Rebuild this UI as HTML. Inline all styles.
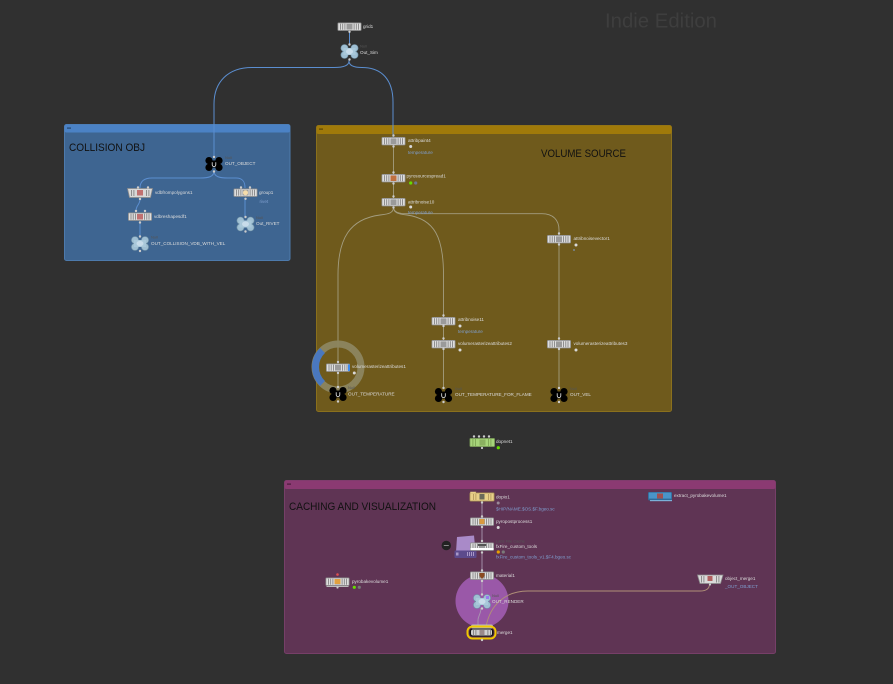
<!DOCTYPE html>
<html><head><meta charset="utf-8"><style>
html,body{margin:0;padding:0;background:#303030;}
svg{display:block;}
text{font-family:"Liberation Sans",sans-serif;}
.l{font-size:4.6px;fill:#dcdcdc;}
.b{font-size:4.6px;fill:#7f9fd0;}
.n{font-size:4px;fill:#555;}
</style></head><body>
<svg width="893" height="684" viewBox="0 0 893 684" xmlns="http://www.w3.org/2000/svg">
<defs>
<g id="nd">
<rect x="0" y="0" width="24" height="8.4" rx="1.2" fill="#8a8a8a"/>
<rect x="0.8" y="0.8" width="22.4" height="6.8" fill="#dedede"/>
<rect x="2.6" y="1.2" width="0.8" height="6" fill="#7a7a7a"/>
<rect x="4.8" y="1.2" width="0.8" height="6" fill="#7a7a7a"/>
<rect x="7" y="1.2" width="0.8" height="6" fill="#7a7a7a"/>
<rect x="16.2" y="1.2" width="0.8" height="6" fill="#7a7a7a"/>
<rect x="18.4" y="1.2" width="0.8" height="6" fill="#7a7a7a"/>
<rect x="20.6" y="1.2" width="0.8" height="6" fill="#7a7a7a"/>
<rect x="9" y="1.4" width="6" height="5.6" fill="#9a9a9a"/>
</g>
<g id="nb">
<circle cx="-5" cy="-3.4" r="3.6" fill="#9fbfd3" stroke="#6f90a4" stroke-width="0.6"/>
<circle cx="5" cy="-3.4" r="3.6" fill="#9fbfd3" stroke="#6f90a4" stroke-width="0.6"/>
<circle cx="-5" cy="3.4" r="3.6" fill="#9fbfd3" stroke="#6f90a4" stroke-width="0.6"/>
<circle cx="5" cy="3.4" r="3.6" fill="#9fbfd3" stroke="#6f90a4" stroke-width="0.6"/>
<rect x="-6" y="-3.5" width="12" height="7" fill="#a9c8da"/>
<ellipse cx="0" cy="0" rx="3.5" ry="2.6" fill="#c8dcea"/>
</g>
<g id="nk">
<circle cx="-5" cy="-3.4" r="3.6" fill="#000"/>
<circle cx="5" cy="-3.4" r="3.6" fill="#000"/>
<circle cx="-5" cy="3.4" r="3.6" fill="#000"/>
<circle cx="5" cy="3.4" r="3.6" fill="#000"/>
<rect x="-6" y="-3.5" width="12" height="7" fill="#000"/>
<path d="M-1.8,-1.8 V0.8 A1.8,1.8 0 0 0 1.8,0.8 V-1.8" fill="none" stroke="#eee" stroke-width="0.8"/>
</g>
</defs>

<!-- Indie Edition -->
<text x="605" y="27.5" font-size="20" fill="#3e3e3e" textLength="112" lengthAdjust="spacingAndGlyphs">Indie Edition</text>

<!-- Collision box -->
<rect x="64.5" y="124.5" width="225.5" height="136" rx="2" fill="#3e6591" stroke="#4d7aac" stroke-width="1"/>
<rect x="64.5" y="124.5" width="225.5" height="8" rx="2" fill="#4b82c5"/>
<rect x="67" y="127.5" width="4" height="1.2" fill="#24466e"/>
<text x="69" y="151" font-size="11" fill="#111" textLength="76" lengthAdjust="spacingAndGlyphs">COLLISION OBJ</text>

<!-- Volume box -->
<rect x="316.5" y="125.5" width="355" height="286" rx="2" fill="#6f5a1c" stroke="#8a701c" stroke-width="1"/>
<rect x="316.5" y="125.5" width="355" height="8.5" rx="2" fill="#a07a0a"/>
<rect x="319" y="128.5" width="4" height="1.2" fill="#5a4406"/>
<text x="541" y="157" font-size="11" fill="#111" textLength="85" lengthAdjust="spacingAndGlyphs">VOLUME SOURCE</text>

<!-- Caching box -->
<rect x="284.5" y="480.5" width="491" height="173" rx="2" fill="#5f3454" stroke="#763f68" stroke-width="1"/>
<rect x="284.5" y="480.5" width="491" height="8.5" rx="2" fill="#8b3a72"/>
<rect x="287" y="483.5" width="4" height="1.2" fill="#4a1c3c"/>
<text x="289" y="510" font-size="11" fill="#111" textLength="147" lengthAdjust="spacingAndGlyphs">CACHING AND VISUALIZATION</text>

<!-- top wires -->
<g fill="none" stroke="#5b8ed0" stroke-width="1">
<path d="M349,59 V61 C349,66 342,67.5 334,67.5 H252 C228,67.5 214,82 214,104 V157"/>
<path d="M349,59 V61 C349,66 355,67.5 362,67.5 C382,67.5 393,80 393,102 V137"/>
<line x1="349.5" y1="31" x2="349.5" y2="45"/>
</g>

<!-- top nodes -->
<use href="#nd" x="337.5" y="22.5"/>
<circle cx="349.5" cy="31.8" r="1.2" fill="#ccc"/>
<text class="l" x="363" y="28">grid1</text>
<use href="#nb" x="349.5" y="51.5"/>
<circle cx="349.5" cy="44.5" r="1.2" fill="#ccc"/>
<circle cx="349.5" cy="59.5" r="1.2" fill="#ccc"/>
<text class="n" x="360" y="47.5">Null</text>
<text class="l" x="360" y="54">Out_Sim</text>

<!-- collision wires -->
<g fill="none" stroke="#5b8ed0" stroke-width="1">
<path d="M214,171 C214,177 208,178 200,178 H152 C143,178 140,182 140,188"/>
<path d="M214,171 C214,177 220,178 228,178 H236 C243,178 245,182 245,188"/>
<path d="M140,199 C140,205 136,205 136,211"/>
<line x1="140" y1="222" x2="140" y2="237"/>
<line x1="245" y1="198" x2="245" y2="218"/>
</g>
<use href="#nk" x="214" y="164"/>
<circle cx="214" cy="157" r="1.2" fill="#ccc"/>
<circle cx="214" cy="171.5" r="1.2" fill="#ccc"/>
<text class="n" x="225" y="159">Null</text>
<text class="l" x="225" y="165">OUT_OBJECT</text>

<path d="M127.5,188.5 H152.5 L150.5,197.5 H129.5 Z" fill="#d8d8d8" stroke="#8a8a8a" stroke-width="0.8"/>
<rect x="137" y="190" width="6" height="5.5" fill="#c07070"/>
<g fill="#7a7a7a"><rect x="131" y="190" width="0.8" height="6"/><rect x="133.5" y="190" width="0.8" height="6"/><rect x="146" y="190" width="0.8" height="6"/><rect x="148.5" y="190" width="0.8" height="6"/></g>
<circle cx="138" cy="187.5" r="1.2" fill="#ccc"/><circle cx="148" cy="187.5" r="1.2" fill="#ccc"/>
<circle cx="140" cy="199" r="1.2" fill="#ccc"/>
<text class="l" x="155" y="194">vdbfrompolygons1</text>

<use href="#nd" x="128" y="212.5"/>
<rect x="137" y="214" width="6" height="5.5" fill="#c07070"/>
<circle cx="136" cy="211" r="1.2" fill="#ccc"/><circle cx="145" cy="211" r="1.2" fill="#ccc"/>
<circle cx="140" cy="222.5" r="1.2" fill="#ccc"/>
<text class="l" x="154" y="218">vdbreshapesdf1</text>

<use href="#nb" x="140" y="243.5"/>
<circle cx="140" cy="236.5" r="1.2" fill="#ccc"/>
<circle cx="140" cy="251" r="1.2" fill="#ccc"/>
<text class="n" x="151" y="238.5">Null</text>
<text class="l" x="151" y="245">OUT_COLLISION_VDB_WITH_VEL</text>

<use href="#nd" x="233.5" y="188.5"/>
<circle cx="245.5" cy="192.7" r="2.5" fill="#f6dcaa"/>
<circle cx="241" cy="187.5" r="1.2" fill="#ccc"/><circle cx="250" cy="187.5" r="1.2" fill="#ccc"/>
<circle cx="245.5" cy="198.8" r="1.2" fill="#ccc"/>
<text class="l" x="259" y="194">group1</text>
<text class="b" x="259.5" y="203">rivet</text>

<use href="#nb" x="245.5" y="224"/>
<circle cx="245.5" cy="217" r="1.2" fill="#ccc"/>
<circle cx="245.5" cy="231.5" r="1.2" fill="#ccc"/>
<text class="n" x="256" y="219">Null</text>
<text class="l" x="256" y="225">Out_RIVET</text>

<!-- volume wires -->
<g fill="none" stroke="#a39d80" stroke-width="0.9">
<line x1="393.5" y1="145" x2="393.5" y2="174"/>
<line x1="393.5" y1="182" x2="393.5" y2="198"/>
<path d="M393.5,207 C393.5,213 389,214 380,215 C350,219 338,238 338,275 V364"/>
<path d="M393.5,207 C393.5,213 398,214 407,215 C435,219 443.5,238 443.5,275 V317"/>
<path d="M393.5,207 C393.5,212 398,213.7 408,213.7 H542 C553,213.7 559,220 559,230 V236"/>
<line x1="443.5" y1="325" x2="443.5" y2="341"/>
<line x1="443.5" y1="348" x2="443.5" y2="388"/>
<line x1="559" y1="243" x2="559" y2="341"/>
<line x1="559" y1="348" x2="559" y2="388"/>
<line x1="338" y1="372" x2="338" y2="388"/>
</g>

<use href="#nd" x="381.5" y="137"/>
<circle cx="393.5" cy="135.5" r="1.2" fill="#ccc"/><circle cx="393.5" cy="146.5" r="1.2" fill="#ccc"/>
<circle cx="410.7" cy="146.5" r="1.5" fill="#d8d8d8"/>
<text class="l" x="408" y="142">attribpaint4</text>
<text class="b" x="408" y="154">temperature</text>

<use href="#nd" x="381.5" y="174"/>
<rect x="390.5" y="175.5" width="6" height="5.5" fill="#c07040"/>
<circle cx="393.5" cy="172.5" r="1.2" fill="#ccc"/><circle cx="393.5" cy="183.5" r="1.2" fill="#ccc"/>
<circle cx="410.7" cy="183" r="1.6" fill="#66dd00"/>
<circle cx="415.7" cy="183" r="1.6" fill="#6c7690"/>
<text class="l" x="406.5" y="177.5">pyrosourcespread1</text>

<use href="#nd" x="381.5" y="198"/>
<circle cx="393.5" cy="196.5" r="1.2" fill="#ccc"/><circle cx="393.5" cy="207.5" r="1.2" fill="#ccc"/>
<circle cx="410.7" cy="207" r="1.5" fill="#d8d8d8"/>
<text class="l" x="408" y="203.5">attribnoise10</text>
<text class="b" x="408" y="214">temperature</text>

<use href="#nd" x="547" y="235"/>
<circle cx="559" cy="233.5" r="1.2" fill="#ccc"/><circle cx="559" cy="244.5" r="1.2" fill="#ccc"/>
<circle cx="576" cy="245" r="1.5" fill="#d8d8d8"/>
<rect x="573.5" y="249" width="1" height="2" fill="#7f9fd0"/>
<text class="l" x="573.5" y="240">attribnoisevector1</text>

<use href="#nd" x="431.5" y="317"/>
<circle cx="443.5" cy="315.5" r="1.2" fill="#ccc"/><circle cx="443.5" cy="326" r="1.2" fill="#ccc"/>
<circle cx="460" cy="326" r="1.5" fill="#d8d8d8"/>
<text class="l" x="458" y="321">attribnoise11</text>
<text class="b" x="458" y="333">temperature</text>

<use href="#nd" x="431.5" y="340"/>
<circle cx="443.5" cy="338.5" r="1.2" fill="#ccc"/><circle cx="443.5" cy="349" r="1.2" fill="#ccc"/>
<circle cx="460" cy="350" r="1.5" fill="#d8d8d8"/>
<text class="l" x="458" y="345">volumerasterizeattributes2</text>

<use href="#nd" x="547" y="340"/>
<circle cx="559" cy="338.5" r="1.2" fill="#ccc"/><circle cx="559" cy="349" r="1.2" fill="#ccc"/>
<circle cx="576" cy="350" r="1.5" fill="#d8d8d8"/>
<text class="l" x="573.5" y="345">volumerasterizeattributes3</text>

<!-- ring -->
<circle cx="338" cy="367" r="23" fill="none" stroke="#8c8660" stroke-width="7" opacity="0.95"/>
<path d="M322.5,350.5 A23,23 0 0 0 322.5,383.5" fill="none" stroke="#4a78be" stroke-width="7"/>
<use href="#nd" x="326" y="363.5"/>
<rect x="348" y="364.5" width="2" height="6.5" fill="#3c8cf0"/>
<circle cx="338" cy="362" r="1.2" fill="#ccc"/><circle cx="338" cy="373" r="1.2" fill="#ccc"/>
<circle cx="354.3" cy="373" r="1.5" fill="#d8d8d8"/>
<text class="l" x="352" y="368">volumerasterizeattributes1</text>

<use href="#nk" x="338" y="394"/>
<circle cx="338" cy="387" r="1.2" fill="#ccc"/><circle cx="338" cy="401.5" r="1.2" fill="#ccc"/>
<text class="n" x="348" y="389">Null</text>
<text class="l" x="348" y="395.5">OUT_TEMPERATURE</text>

<use href="#nk" x="443.5" y="395"/>
<circle cx="443.5" cy="388" r="1.2" fill="#ccc"/><circle cx="443.5" cy="402" r="1.2" fill="#ccc"/>
<text class="n" x="455" y="390">Null</text>
<text class="l" x="455" y="396">OUT_TEMPERATURE_FOR_FLAME</text>

<use href="#nk" x="559" y="395"/>
<circle cx="559" cy="388" r="1.2" fill="#ccc"/><circle cx="559" cy="402" r="1.2" fill="#ccc"/>
<text class="n" x="570" y="390">Null</text>
<text class="l" x="570" y="396">OUT_VEL</text>

<!-- dopnet -->
<rect x="469.5" y="438" width="25.5" height="9" rx="1.2" fill="#6e8c50"/>
<rect x="470.3" y="438.8" width="23.9" height="7.4" fill="#a6d47a"/>
<g fill="#7aa050"><rect x="472.5" y="439" width="0.8" height="7"/><rect x="475" y="439" width="0.8" height="7"/><rect x="488" y="439" width="0.8" height="7"/><rect x="490.5" y="439" width="0.8" height="7"/></g>
<rect x="479.5" y="439.5" width="6" height="6" fill="#8ab060"/>
<circle cx="474" cy="436.5" r="1.2" fill="#ccc"/><circle cx="479" cy="436.5" r="1.2" fill="#ccc"/><circle cx="484" cy="436.5" r="1.2" fill="#ccc"/><circle cx="489" cy="436.5" r="1.2" fill="#ccc"/>
<circle cx="482" cy="448" r="1.1" fill="#ccc"/>
<circle cx="498.3" cy="447.7" r="1.6" fill="#66dd00"/>
<text class="l" x="496" y="443">dopnet1</text>

<!-- caching wires -->
<g fill="none" stroke="#a896b0" stroke-width="0.9">
<line x1="482" y1="502" x2="482" y2="518"/>
<line x1="482" y1="526" x2="482" y2="542"/>
<line x1="482" y1="552" x2="482" y2="572"/>
</g>

<!-- purple circle -->
<circle cx="482" cy="601" r="26.5" fill="#9a58a8"/>
<g fill="none" stroke="#a896b0" stroke-width="0.9">
<line x1="482" y1="580" x2="482" y2="594"/>
<path d="M481,608 C481,614 478,616 478,620 V628"/>
</g>
<path d="M709.5,584 C709.5,589 706,591 700,591 H528 C505,591 490,605 486,627" fill="none" stroke="#b09078" stroke-width="0.9"/>

<rect x="469.5" y="492.5" width="25" height="9" rx="1.2" fill="#a08850"/>
<rect x="470.3" y="493.3" width="23.4" height="7.4" fill="#e8d088"/>
<path d="M470.3,493.3 h5 l1,-1.5 h-6z" fill="#e8d088"/>
<g fill="#b09458"><rect x="473" y="494" width="0.8" height="6"/><rect x="475.5" y="494" width="0.8" height="6"/><rect x="488" y="494" width="0.8" height="6"/><rect x="490.5" y="494" width="0.8" height="6"/></g>
<rect x="479.5" y="494" width="5" height="5.5" fill="#6a6a5a"/>
<circle cx="482" cy="502.5" r="1.2" fill="#ccc"/>
<circle cx="498.2" cy="503" r="1.5" fill="#9a8a98"/>
<text class="l" x="496" y="498.5">dopio1</text>
<text class="b" x="496" y="510.5">$HIP/NAME.$OS.$F.bgeo.sc</text>

<use href="#nd" x="470" y="517.5"/>
<rect x="479.5" y="519" width="5" height="5" fill="#d89a40"/>
<circle cx="482" cy="516.5" r="1.2" fill="#ccc"/><circle cx="482" cy="527" r="1.2" fill="#ccc"/>
<circle cx="498.2" cy="527.5" r="1.5" fill="#d8d8d8"/>
<text class="l" x="496" y="523">pyropostprocess1</text>

<!-- file cache icon -->
<circle cx="446.3" cy="545.5" r="4.7" fill="#222"/>
<rect x="443.8" y="545" width="5" height="1" fill="#888"/>
<path d="M457,537 L474,535.5 L475.5,551 L456,552 Z" fill="#a98ac8"/>
<rect x="454.5" y="550.5" width="22" height="7.5" rx="1" fill="#5c4a8c"/>
<rect x="456" y="552.5" width="2.5" height="3" fill="#a898c8"/>
<g fill="#c8b8e0"><rect x="467" y="552" width="0.7" height="4"/><rect x="469" y="552" width="0.7" height="4"/><rect x="471" y="552" width="0.7" height="4"/><rect x="473" y="552" width="0.7" height="4"/></g>

<use href="#nd" x="470" y="542.5"/>
<rect x="478" y="544" width="8" height="2" fill="#555"/>
<rect x="470.5" y="548" width="23" height="2" fill="#fff"/>
<circle cx="482" cy="541" r="1.2" fill="#ccc"/><circle cx="482" cy="552.5" r="1.2" fill="#ccc"/>
<circle cx="498.3" cy="552" r="1.6" fill="#e8a000"/>
<circle cx="503.3" cy="552" r="1.6" fill="#7a7a7a"/>
<text class="n" x="496" y="542.5" fill="#7a6a7a">Labs File Cache</text>
<text class="l" x="496" y="548">fxFire_custom_tools</text>
<text class="b" x="496" y="558.5">fxFire_custom_tools_v1.$F4.bgeo.sc</text>

<use href="#nd" x="470" y="571.5"/>
<path d="M479.5,573 h5 v3 l-2.5,3 l-2.5,-3z" fill="#8a4a20"/>
<circle cx="482" cy="570.5" r="1.2" fill="#ccc"/><circle cx="482" cy="581" r="1.2" fill="#ccc"/>
<text class="l" x="496" y="577">material1</text>

<use href="#nb" x="482" y="601.5"/>
<rect x="486" y="596" width="3" height="3" fill="#9a7af0"/>
<circle cx="482" cy="594.5" r="1.2" fill="#ccc"/><circle cx="482" cy="608.5" r="1.2" fill="#ccc"/>
<text class="n" x="492" y="597" fill="#6a4a74">Null</text>
<text class="l" x="492" y="603">OUT_RENDER</text>

<!-- merge -->
<rect x="471" y="624.5" width="22" height="4" rx="2" fill="#bdbdbd"/>
<rect x="467.5" y="626.5" width="28" height="12" rx="5" fill="none" stroke="#f0c800" stroke-width="2"/>
<rect x="469.5" y="628.5" width="24" height="8" rx="3" fill="#111"/>
<rect x="471" y="629.5" width="21" height="6" rx="2" fill="#cfcfcf"/>
<g fill="#777"><rect x="473" y="630" width="0.8" height="5"/><rect x="475.5" y="630" width="0.8" height="5"/><rect x="487.5" y="630" width="0.8" height="5"/><rect x="490" y="630" width="0.8" height="5"/></g>
<rect x="479.5" y="630" width="5" height="5" fill="#9a8a8a"/>
<circle cx="482" cy="640" r="1.2" fill="#ccc"/>
<text class="l" x="497" y="634">merge1</text>

<!-- pyrobakevolume -->
<circle cx="337.5" cy="574.5" r="1.3" fill="#e05050"/>
<use href="#nd" x="325.5" y="577.5"/>
<rect x="334.5" y="579" width="6" height="5" fill="#e0a040"/>
<rect x="326.5" y="586" width="22" height="1" fill="#bbb"/>
<circle cx="337.5" cy="587.5" r="1.1" fill="#ccc"/>
<circle cx="354.3" cy="587.3" r="1.6" fill="#66dd00"/>
<circle cx="359.3" cy="587.3" r="1.6" fill="#777"/>
<text class="l" x="352" y="583">pyrobakevolume1</text>

<!-- extract -->
<rect x="648" y="492" width="24" height="8.5" rx="1.2" fill="#2e6a98"/>
<rect x="648.8" y="492.6" width="22.4" height="6" fill="#4a94c8"/>
<rect x="650" y="500" width="22" height="1.2" fill="#7ab0d8"/>
<rect x="657" y="493.5" width="6" height="5" fill="#a05050"/>
<text class="l" x="674" y="497">extract_pyrobakevolume1</text>

<!-- object merge -->
<path d="M697.5,575 H723 L720.5,583.5 H700 Z" fill="#dadada" stroke="#8a8a8a" stroke-width="0.8"/>
<g fill="#7a7a7a"><rect x="701" y="576" width="0.8" height="6.5"/><rect x="703.5" y="576" width="0.8" height="6.5"/><rect x="716" y="576" width="0.8" height="6.5"/><rect x="718.5" y="576" width="0.8" height="6.5"/></g>
<rect x="707.5" y="576" width="5" height="5" fill="#b06060"/>
<circle cx="710" cy="584.5" r="1.1" fill="#ccc"/>
<text class="l" x="725" y="580">object_merge1</text>
<text class="b" x="725" y="588">_OUT_OBJECT</text>
</svg>
</body></html>
